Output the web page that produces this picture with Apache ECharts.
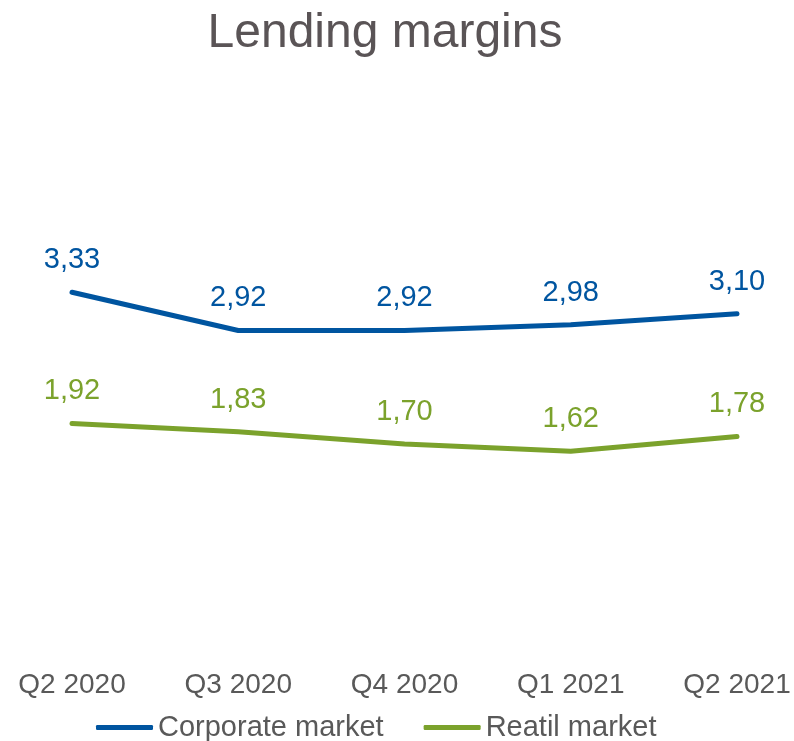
<!DOCTYPE html>
<html>
<head>
<meta charset="utf-8">
<script src="https://cdn.jsdelivr.net/npm/echarts@6/dist/echarts.min.js"></script>
<style>
  html, body { margin: 0; padding: 0; background: #ffffff; }
  #chart { width: 794px; height: 741px; }
</style>
</head>
<body>
<div id="chart"></div>
<script>
// Quarterly lending margins by market segment
const quarters = ['Q2 2020', 'Q3 2020', 'Q4 2020', 'Q1 2021', 'Q2 2021'];
const corporateMarket = [3.33, 2.92, 2.92, 2.98, 3.10];
const retailMarket = [1.92, 1.83, 1.70, 1.62, 1.78];
const seriesNames = ['Corporate market', 'Reatil market'];

const BLUE = '#0055A0';
const GREEN = '#7BA22C';
const GREY = '#595959';
const FONT = 'Liberation Sans, Arial, sans-serif';

const fmt = p => p.value.toFixed(2).replace('.', ',');

const chart = echarts.init(document.getElementById('chart'), null, { renderer: 'canvas' });

function lineSeries(name, data, color) {
  return {
    name: name,
    type: 'line',
    data: data,
    color: color,
    symbol: 'circle',
    symbolSize: 1,
    showSymbol: true,
    itemStyle: { color: color },
    lineStyle: { width: 5, color: color, cap: 'round', join: 'round' },
    label: {
      show: true, position: 'top', distance: 17, formatter: fmt,
      fontFamily: FONT, fontSize: 29, color: color
    }
  };
}

chart.setOption({
  animation: false,
  backgroundColor: '#ffffff',
  title: {
    text: 'Lending margins',
    left: 380,
    textAlign: 'center',
    top: 5,
    textStyle: { fontFamily: FONT, fontSize: 48, fontWeight: 'normal', color: '#5A5456' }
  },
  legend: {
    left: 91,
    top: 708,
    itemWidth: 57,
    itemHeight: 5,
    itemGap: 40,
    icon: 'roundRect',
    textStyle: { fontFamily: FONT, fontSize: 29, color: GREY },
    data: seriesNames
  },
  grid: { left: 72, right: 57, top: 230, height: 372 },
  xAxis: {
    type: 'category',
    data: quarters,
    boundaryGap: false,
    axisLine: { show: false },
    axisTick: { show: false },
    splitLine: { show: false },
    axisLabel: { margin: 69, fontFamily: FONT, fontSize: 28, color: GREY }
  },
  yAxis: {
    type: 'value',
    min: 0,
    max: 4,
    show: false
  },
  series: [
    lineSeries(seriesNames[0], corporateMarket, BLUE),
    lineSeries(seriesNames[1], retailMarket, GREEN)
  ]
});
</script>
</body>
</html>
